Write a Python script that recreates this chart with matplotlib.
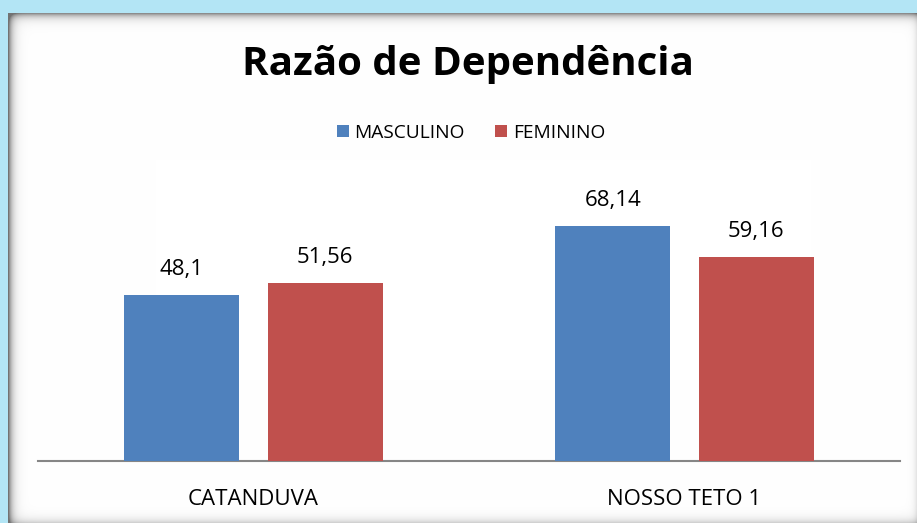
import matplotlib
matplotlib.use("Agg")
import matplotlib.pyplot as plt
import numpy as np

categories = ["CATANDUVA", "NOSSO TETO 1"]
series_names = ["MASCULINO", "FEMININO"]
masculino = [48.1, 68.14]
feminino = [51.56, 59.16]
labels_m = ["48,1", "68,14"]
labels_f = ["51,56", "59,16"]
title = "Razão de Dependência"

W, H = 917, 523
fig = plt.figure(figsize=(W/100, H/100), dpi=100)

# background: light blue with a white panel having soft inner shadow edges
yy, xx = np.mgrid[0:H, 0:W].astype(float)
dl = xx - 8
dt = yy - 13
db = (H - 1) - yy
dr = (W - 1) - xx
shade = np.ones((H, W))
shade -= 0.55 * np.exp(-np.clip(dl, 0, None) / 4.0)
shade -= 0.45 * np.exp(-np.clip(dt, 0, None) / 4.0)
shade -= 0.18 * np.exp(-np.clip(db, 0, None) / 4.0)
shade -= 0.10 * np.exp(-np.clip(dr, 0, None) / 3.0)
shade = np.clip(shade, 0.45, 1)
img = np.dstack([shade, shade, shade])
outside = (dl < 0) | (dt < 0)
img[outside] = np.array([0xb3, 0xe5, 0xf5]) / 255.0
bg = fig.add_axes([0, 0, 1, 1])
bg.imshow(img, aspect="auto", interpolation="nearest")
bg.set_axis_off()
bg.set_zorder(0)

font = "Open Sans"
ax = fig.add_axes([38 / W, (H - 461) / H, (900 - 38) / W, (461 - 185) / H])
ax.set_zorder(2)
ax.set_facecolor("none")
x = np.arange(len(categories))
bw = 0.267
off = 0.166
b1 = ax.bar(x - off, masculino, bw, color="#4F81BD", label=series_names[0], zorder=3)
b2 = ax.bar(x + off, feminino, bw, color="#C0504D", label=series_names[1], zorder=3)
for rects, labs in ((b1, labels_m), (b2, labels_f)):
    for r, l in zip(rects, labs):
        ax.annotate(l, (r.get_x() + r.get_width() / 2, r.get_height()),
                    xytext=(0, 18.5), textcoords="offset points",
                    ha="center", va="center", fontsize=16, family=font, color="black")

ax.set_xlim(-0.5, 1.5)
ax.set_ylim(0, 80)
ax.set_yticks([])
ax.set_xticks(x)
ax.set_xticklabels(categories, fontsize=16, family=font)
ax.tick_params(axis="x", length=0, pad=20)
for s in ["top", "right", "left"]:
    ax.spines[s].set_visible(False)
ax.spines["bottom"].set_color("#868686")
ax.spines["bottom"].set_linewidth(1.5)

fig.text(468 / W, 1 - 65 / H, title, ha="center", va="center", fontsize=29,
         fontweight="bold", family=font, zorder=5)

leg = fig.legend(handles=[b1, b2], labels=series_names, loc="center",
                 bbox_to_anchor=(471 / W, 1 - 133 / H), ncol=2, frameon=False,
                 prop={"family": font, "size": 13.8}, handlelength=0.6, handleheight=0.6,
                 handletextpad=0.3, columnspacing=1.6)
leg.set_zorder(5)

fig.savefig("out.png", dpi=100)
